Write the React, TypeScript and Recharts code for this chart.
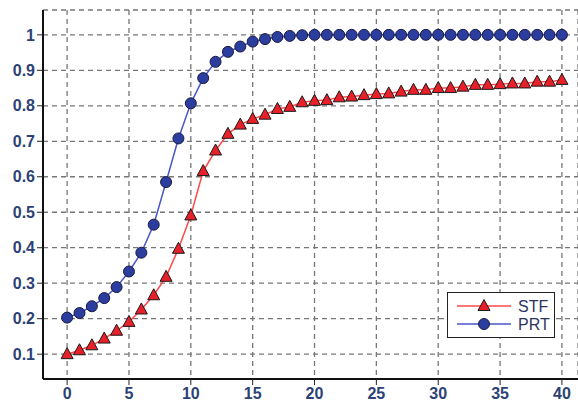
import React from 'react';
import {
  LineChart,
  Line,
  XAxis,
  YAxis,
  CartesianGrid,
  Legend,
} from 'recharts';

const steps = [
  0, 1, 2, 3, 4, 5, 6, 7, 8, 9, 10, 11, 12, 13, 14, 15, 16, 17, 18, 19, 20,
  21, 22, 23, 24, 25, 26, 27, 28, 29, 30, 31, 32, 33, 34, 35, 36, 37, 38, 39, 40,
];

const stf = [
  0.1, 0.111, 0.125, 0.144, 0.166, 0.191, 0.226, 0.266, 0.318, 0.397, 0.491,
  0.616, 0.674, 0.721, 0.747, 0.763, 0.775, 0.791, 0.797, 0.81, 0.814,
  0.816, 0.824, 0.826, 0.83, 0.833, 0.835, 0.84, 0.845, 0.845, 0.85,
  0.85, 0.854, 0.859, 0.859, 0.861, 0.863, 0.863, 0.868, 0.868, 0.873,
];

const prt = [
  0.203, 0.216, 0.235, 0.258, 0.289, 0.333, 0.386, 0.465, 0.585, 0.708, 0.807,
  0.878, 0.924, 0.952, 0.967, 0.981, 0.988, 0.994, 0.997, 0.999, 1.0,
  1.0, 1.0, 1.0, 1.0, 1.0, 1.0, 1.0, 1.0, 1.0, 1.0,
  1.0, 1.0, 1.0, 1.0, 1.0, 1.0, 1.0, 1.0, 1.0, 1.0,
];

const xTicks = [0, 5, 10, 15, 20, 25, 30, 35, 40];
const yTicks = [0.1, 0.2, 0.3, 0.4, 0.5, 0.6, 0.7, 0.8, 0.9, 1];

// minor tick marks: every unit on x, every 0.02 on y
const xMinor: number[] = [];
for (let i = -1; i <= 41; i++) xMinor.push(i);
const yMinor: number[] = [];
for (let i = 2; i <= 53; i++) yMinor.push(Math.round(i * 2) / 100);

const data = steps.map((x, i) => ({ x, STF: stf[i], PRT: prt[i] }));

const labelStyle = {
  fill: '#2c4275',
  fontSize: 16,
  fontWeight: 'bold' as const,
  fontFamily: 'Liberation Sans, Arial, sans-serif',
};

const Triangle = (props: any) => {
  const { cx, cy } = props;
  if (cx == null || cy == null) return null;
  return (
    <polygon
      points={`${cx},${cy - 6.5} ${cx - 6},${cy + 4.5} ${cx + 6},${cy + 4.5}`}
      fill="#e8202a"
      stroke="#1a1a1a"
      strokeWidth={1}
    />
  );
};

const Dot = (props: any) => {
  const { cx, cy } = props;
  if (cx == null || cy == null) return null;
  return <circle cx={cx} cy={cy} r={5.5} fill="#2b3ea0" stroke="#1a1a40" strokeWidth={1} />;
};

const LegendBox = () => (
  <div
    style={{
      border: '1.5px solid #222',
      background: '#fff',
      width: 108,
      height: 46,
      boxSizing: 'border-box',
    }}
  >
    <svg width={106} height={44} style={{ display: 'block' }}>
      <line x1={9} y1={13} x2={63} y2={13} stroke="#ff4a4a" strokeWidth={1.5} />
      <Triangle cx={36} cy={13} />
      <text x={70} y={19} {...labelStyle} fontWeight="normal" fill="#2c3560">STF</text>
      <line x1={9} y1={31} x2={63} y2={31} stroke="#4a56c8" strokeWidth={1.5} />
      <Dot cx={36} cy={31} />
      <text x={70} y={37} {...labelStyle} fontWeight="normal" fill="#2c3560">PRT</text>
    </svg>
  </div>
);

export default function App() {
  return (
    <div style={{ position: 'absolute', left: 0, top: 0, width: 578, height: 407, background: '#fff' }}>
      <LineChart width={578} height={407} data={data} margin={{ top: 10, right: 0, bottom: 0, left: 0 }}>
        <CartesianGrid stroke="#777" strokeDasharray="5 4" strokeWidth={1.3} />
        <XAxis
          xAxisId="minor"
          dataKey="x"
          type="number"
          domain={[-1.95, 41.3]}
          allowDataOverflow
          ticks={xMinor}
          height={0}
          tick={false}
          axisLine={false}
          tickSize={3}
          tickLine={{ stroke: '#222' }}
        />
        <XAxis
          dataKey="x"
          type="number"
          domain={[-1.95, 41.3]}
          allowDataOverflow
          ticks={xTicks}
          height={28}
          tickSize={6}
          tickMargin={3}
          tick={labelStyle}
          axisLine={{ stroke: '#111', strokeWidth: 2 }}
          tickLine={{ stroke: '#222' }}
        />
        <YAxis
          yAxisId="minor"
          type="number"
          domain={[0.03, 1.07]}
          allowDataOverflow
          ticks={yMinor}
          width={0}
          tick={false}
          axisLine={false}
          tickSize={3}
          tickLine={{ stroke: '#222' }}
        />
        <YAxis
          type="number"
          domain={[0.03, 1.07]}
          allowDataOverflow
          ticks={yTicks}
          width={43}
          tickSize={6}
          tickMargin={2}
          tick={labelStyle}
          axisLine={{ stroke: '#111', strokeWidth: 2 }}
          tickLine={{ stroke: '#222' }}
        />
        <Line
          dataKey="STF"
          stroke="#ff4a4a"
          strokeWidth={1.5}
          dot={<Triangle />}
          activeDot={false}
          isAnimationActive={false}
        />
        <Line
          dataKey="PRT"
          stroke="#4a56c8"
          strokeWidth={1.5}
          dot={<Dot />}
          activeDot={false}
          isAnimationActive={false}
        />
        <Legend
          layout="horizontal"
          align="center"
          verticalAlign="middle"
          content={<LegendBox />}
          wrapperStyle={{ position: 'absolute', left: 447, top: 292, width: 108, height: 46 }}
        />
      </LineChart>
    </div>
  );
}
